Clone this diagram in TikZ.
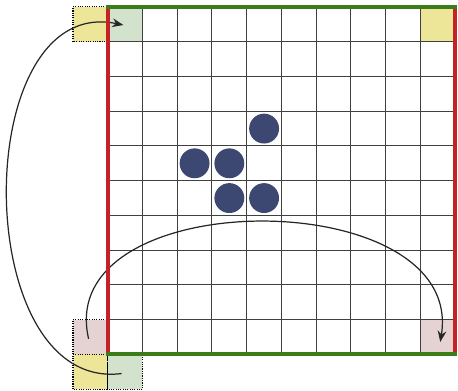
\documentclass[tikz,border=0pt]{standalone}
\usetikzlibrary{arrows.meta}

\definecolor{cellyellow}{RGB}{237,230,152}
\definecolor{cellgreen}{RGB}{211,226,204}
\definecolor{cellpink}{RGB}{229,211,211}
\definecolor{edgered}{RGB}{196,34,36}
\definecolor{edgegreen}{RGB}{58,124,24}
\definecolor{glidercol}{RGB}{61,72,114}

\tikzset{
  ghost/.style={draw=black, densely dotted, line width=0.9pt},
  wrapedge/.style={line width=3.3pt},
  wraparrow/.style={-{Stealth[length=3.2mm,width=2.5mm]}, black!85, line width=1pt}
}

\begin{document}
\begin{tikzpicture}[x=1cm,y=1cm]
  \useasboundingbox (-3.1,-1.05) rectangle (10.08,10.2);

  % shaded cells on the board
  \fill[cellgreen] (0,9) rectangle (1,10);
  \fill[cellyellow] (9,9) rectangle (10,10);
  \fill[cellpink] (9,0) rectangle (10,1);

  % ghost cells outside the board
  \filldraw[cellyellow, ghost] (-1,9) rectangle (0,10);
  \filldraw[cellpink, ghost] (-1,0) rectangle (0,1);
  \filldraw[cellyellow, ghost] (-1,-1) rectangle (0,0);
  \filldraw[cellgreen, ghost] (0,-1) rectangle (1,0);

  % grid
  \draw[black!75, line width=0.8pt] (0,0) grid (10,10);

  % glider
  \foreach \cx/\cy in {4/6, 2/5, 3/5, 3/4, 4/4}
    \fill[glidercol] (\cx+0.5,\cy+0.5) circle (0.43);

  % wrap-around arrows
  \coordinate (greenout) at (0.4,-0.55);
  \coordinate (greenin) at (0.45,9.48);
  \coordinate (pinkout) at (-0.55,0.45);
  \coordinate (pinkin) at (9.57,0.36);
  \draw[wraparrow] (greenout) .. controls (-4.0,-1.1) and (-4.0,10.4) .. (greenin);
  \draw[wraparrow] (pinkout) .. controls (-1.6,4.95) and (10.3,4.95) .. (pinkin);

  % periodic edges
  \draw[wrapedge, edgered] (0,0) -- (0,10) (10,0) -- (10,10);
  \draw[wrapedge, edgegreen] (-0.06,10) -- (10.06,10) (-0.06,0) -- (10.06,0);
\end{tikzpicture}
\end{document}
